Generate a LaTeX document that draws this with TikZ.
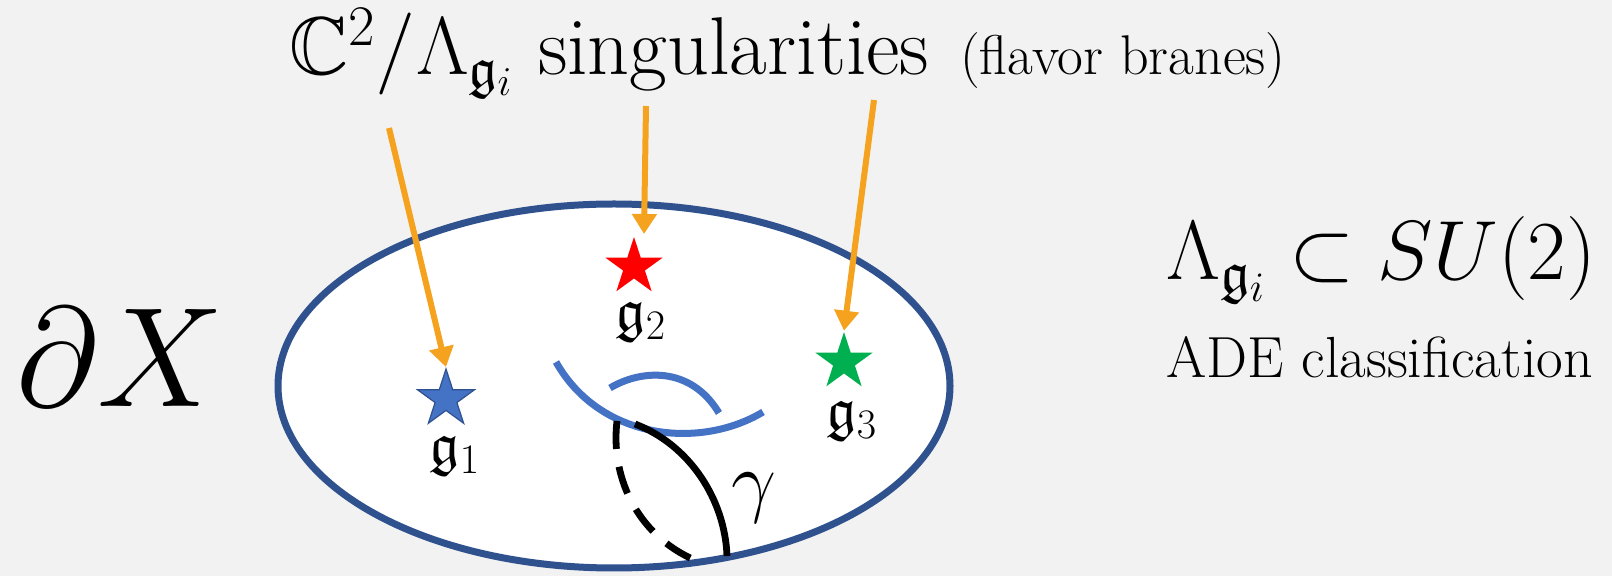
\RequirePackage{fix-cm}
\documentclass[tikz,border=0pt]{standalone}
\usepackage{amsmath,amssymb}
\usetikzlibrary{shapes.geometric,arrows.meta}
\definecolor{bg}{RGB}{242,242,242}
\definecolor{ellblue}{RGB}{47,82,143}
\definecolor{arcblue}{RGB}{68,114,196}
\definecolor{starblue}{RGB}{68,114,196}
\definecolor{starred}{RGB}{255,0,0}
\definecolor{stargreen}{RGB}{0,176,80}
\definecolor{orng}{RGB}{245,163,30}
\tikzset{
  starshape/.style={star,star points=5,star point ratio=2.618,minimum size=30pt,inner sep=0pt},
  ptr/.style={draw=orng,line width=3pt,-{Triangle[width=12pt,length=10pt]},shorten >=0pt},
  glabel/.style={inner sep=0pt,font=\fontsize{30}{34}\selectfont},
  arcline/.style={draw=arcblue,line width=3.5pt},
}
\begin{document}
\begin{tikzpicture}[x=0.5pt,y=-0.5pt]
\fill[bg] (0,0) rectangle (1612,576);
\useasboundingbox (0,0) rectangle (1612,576);
% ellipse
\node[ellipse,draw=ellblue,line width=3.5pt,fill=white,minimum width=336pt,minimum height=182pt,inner sep=0pt] (ell) at (614,386) {};
% stars
\node[starshape,fill=starblue,draw=ellblue,line width=0.6pt] (s1) at (446,399) {};
\node[starshape,fill=starred] (s2) at (634,267) {};
\node[starshape,fill=stargreen] (s3) at (844,362) {};
% labels
\node[glabel] (g1) at (455,456) {$\mathfrak{g}_1$};
\node[glabel] (g2) at (641,322) {$\mathfrak{g}_2$};
\node[glabel] (g3) at (852,421) {$\mathfrak{g}_3$};
% title
\node[anchor=base west,inner sep=0pt,font=\fontsize{41}{48}\selectfont] (title) at (289,75) {$\mathbb{C}^2/\Lambda_{\mathfrak{g}_i}$ singularities\hspace{3pt} {\fontsize{28}{32}\selectfont(flavor branes)}};
% arrow starts
\coordinate (a1) at (389,128);
\coordinate (a2) at (646,106);
\coordinate (a3) at (874,100);
\coordinate (t2) at (644,234);
\draw[ptr] (a1) -- (s1.north);
\draw[ptr] (a2) -- (t2);
\draw[ptr] (a3) -- (s3.north);
% dX
\node[anchor=base west,inner sep=0pt,font=\fontsize{71}{74}\selectfont] (dX) at (16,407) {$\partial X$};
% right text
\node[anchor=base west,inner sep=0pt,font=\fontsize{42}{48}\selectfont] (lam) at (1166,280) {$\Lambda_{\mathfrak{g}_i}\subset SU(2)$};
\node[anchor=base west,inner sep=0pt,font=\fontsize{29}{34}\selectfont] (ade) at (1166,378) {ADE classification};
% blue arcs
\coordinate (b1s) at (556,362);
\coordinate (b1e) at (763,412);
\coordinate (b2s) at (610,388);
\coordinate (b2e) at (719,413);
\draw[arcline] (b1s) .. controls (600,440) and (700,450) .. (b1e);
\draw[arcline] (b2s) .. controls (640,370) and (690,365) .. (b2e);
% gamma
\coordinate (c1) at (635,424);
\coordinate (c2) at (727,556);
\coordinate (c3) at (617,421);
\coordinate (c4) at (702,563);
\draw[line width=3.4pt] (c1) .. controls (690,445) and (725,500) .. (c2);
\draw[line width=3.4pt,dash pattern=on 14pt off 9pt] (c3) .. controls (610,480) and (640,540) .. (c4);
\node[inner sep=0pt,font=\fontsize{40}{44}\selectfont] (gam) at (754,498) {$\gamma$};
\end{tikzpicture}
\end{document}
